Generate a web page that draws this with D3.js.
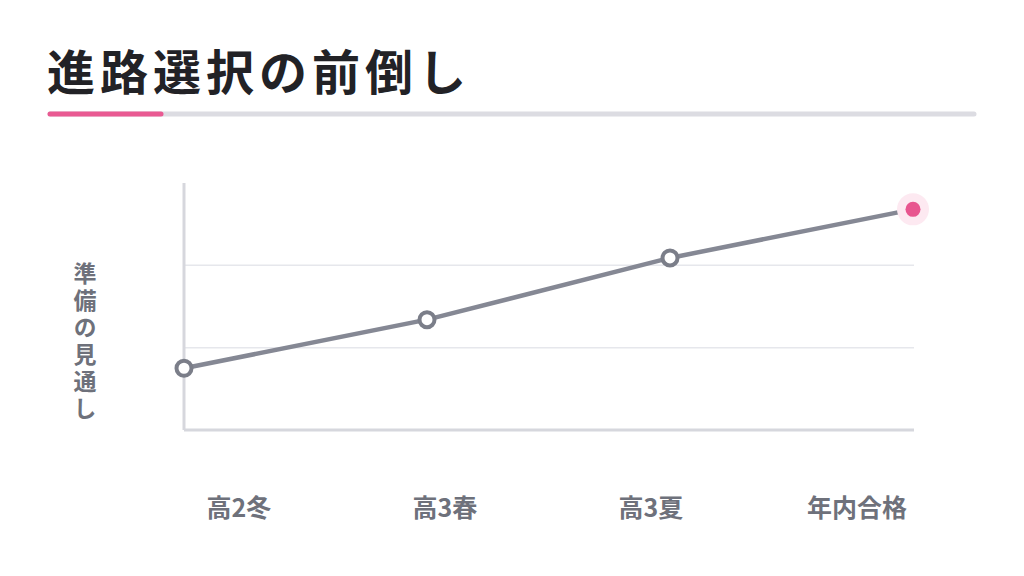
<!DOCTYPE html>
<html>
<head>
<meta charset="utf-8">
<script src="https://cdn.jsdelivr.net/npm/d3@7"></script>
<style>
  body { margin: 0; background: #fff; }
  svg text { font-family: "Noto Sans CJK JP", "Noto Sans", sans-serif; }
</style>
</head>
<body>
<svg id="graph" width="1024" height="576"></svg>
<script>
var stages = ['高2冬', '高3春', '高3夏', '年内合格'];
var outlook = [0.75, 1.34, 2.09, 2.68];
var gridValues = [1, 2];
var titleText = '進路選択の前倒し';
var yLabel = '準備の見通し';

var WIDTH = 1024, HEIGHT = 576;
var MARGINS = { top: 183, right: 110, bottom: 146, left: 184 };

var vis = d3.select('#graph');

// title + underline
vis.append('text')
  .attr('x', 47).attr('y', 90)
  .attr('font-size', 48).attr('font-weight', 700)
  .attr('letter-spacing', 5)
  .attr('fill', '#222226')
  .text(titleText);

vis.append('line')
  .attr('x1', 50).attr('x2', 974).attr('y1', 114).attr('y2', 114)
  .attr('stroke', '#dcdce2').attr('stroke-width', 5).attr('stroke-linecap', 'round');
vis.append('line')
  .attr('x1', 50).attr('x2', 161).attr('y1', 114).attr('y2', 114)
  .attr('stroke', '#e95a92').attr('stroke-width', 5).attr('stroke-linecap', 'round');

var xRange = d3.scalePoint()
  .domain(stages)
  .range([MARGINS.left, WIDTH - MARGINS.right - 1]);

// labels sit on their own band, shifted from the points
var xLabels = d3.scaleBand()
  .domain(stages)
  .range([136, 960]);

var yRange = d3.scaleLinear()
  .domain([0, 3])
  .range([HEIGHT - MARGINS.bottom, MARGINS.top]);

// grid lines
vis.selectAll('.grid')
  .data(gridValues)
  .enter().append('line')
  .attr('class', 'grid')
  .attr('x1', MARGINS.left).attr('x2', WIDTH - MARGINS.right)
  .attr('y1', function (d) { return yRange(d); })
  .attr('y2', function (d) { return yRange(d); })
  .attr('stroke', '#e6e7ec').attr('stroke-width', 1.5);

// axes
vis.append('line')
  .attr('x1', MARGINS.left).attr('x2', MARGINS.left)
  .attr('y1', yRange(3)).attr('y2', yRange(0))
  .attr('stroke', '#d6d7dd').attr('stroke-width', 3);
vis.append('line')
  .attr('x1', MARGINS.left).attr('x2', WIDTH - MARGINS.right)
  .attr('y1', yRange(0)).attr('y2', yRange(0))
  .attr('stroke', '#d6d7dd').attr('stroke-width', 3);

// x labels
vis.selectAll('.xlabel')
  .data(stages)
  .enter().append('text')
  .attr('class', 'xlabel')
  .attr('x', function (d) { return xLabels(d) + xLabels.bandwidth() / 2; })
  .attr('y', 517)
  .attr('text-anchor', 'middle')
  .attr('font-size', 25).attr('font-weight', 700)
  .attr('fill', '#6e717b')
  .text(function (d) { return d; });

// vertical y label
vis.append('text')
  .attr('x', 85).attr('y', 262)
  .attr('writing-mode', 'vertical-rl')
  .style('text-orientation', 'upright')
  .attr('letter-spacing', 4)
  .attr('font-size', 23).attr('font-weight', 700)
  .attr('fill', '#6e717b')
  .text(yLabel);

var data = stages.map(function (s, i) { return { stage: s, value: outlook[i] }; });

var lineGen = d3.line()
  .x(function (d) { return xRange(d.stage); })
  .y(function (d) { return yRange(d.value); });

vis.append('path')
  .attr('d', lineGen(data))
  .attr('stroke', '#858894').attr('stroke-width', 4.5)
  .attr('fill', 'none');

var last = data[data.length - 1];

vis.selectAll('.pt')
  .data(data.slice(0, -1))
  .enter().append('circle')
  .attr('class', 'pt')
  .attr('cx', function (d) { return xRange(d.stage); })
  .attr('cy', function (d) { return yRange(d.value); })
  .attr('r', 7.5)
  .attr('fill', '#fff').attr('stroke', '#7b7e89').attr('stroke-width', 4);

vis.append('circle')
  .attr('cx', xRange(last.stage)).attr('cy', yRange(last.value))
  .attr('r', 16).attr('fill', '#fde9f1');
vis.append('circle')
  .attr('cx', xRange(last.stage)).attr('cy', yRange(last.value))
  .attr('r', 7.5).attr('fill', '#e8558f');
</script>
</body>
</html>
